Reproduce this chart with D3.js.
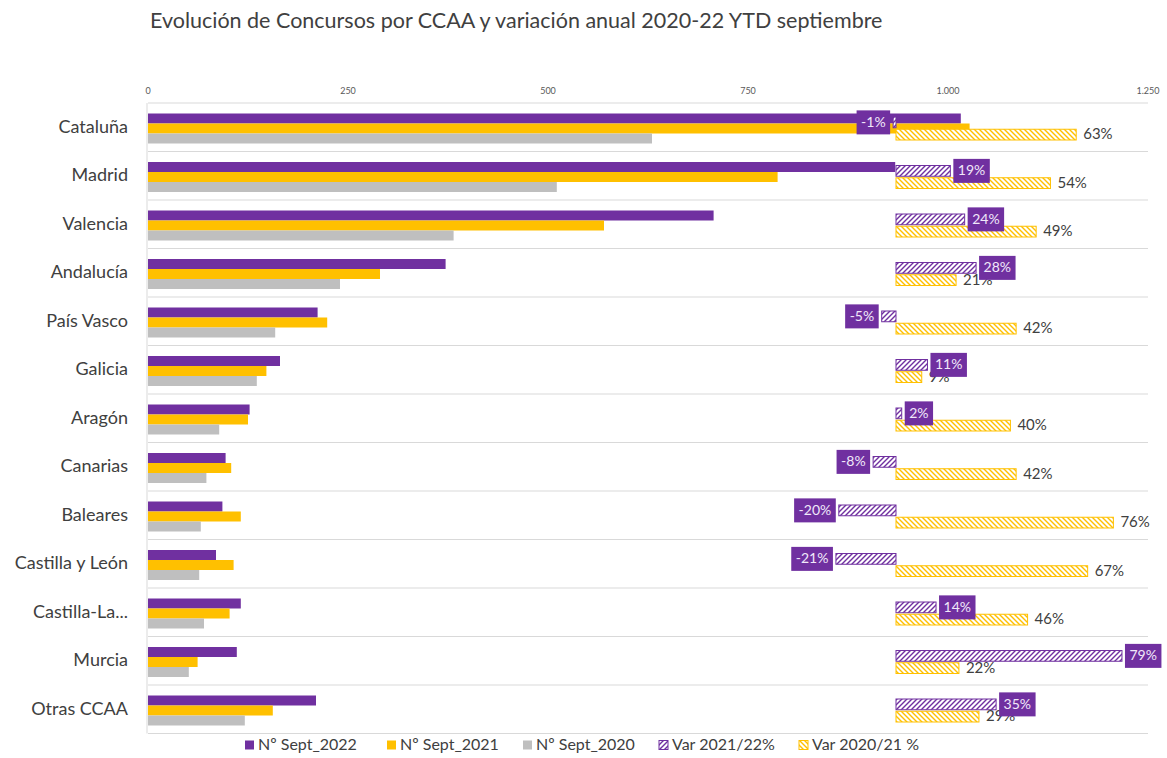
<!DOCTYPE html>
<html>
<head>
<meta charset="utf-8">
<script src="https://cdn.jsdelivr.net/npm/d3@7"></script>
<style>
  body { margin: 0; background: #fff; }
  svg text { font-family: Lato, "Open Sans", sans-serif; }
</style>
</head>
<body>
<div id="chart"></div>
<script>
const categories = ["Cataluña", "Madrid", "Valencia", "Andalucía", "País Vasco", "Galicia", "Aragón",
  "Canarias", "Baleares", "Castilla y León", "Castilla-La...", "Murcia", "Otras CCAA"];
const sept2022 = [1016, 934, 707, 372, 212, 165, 127, 97, 93, 85, 116, 111, 210];
const sept2021 = [1027, 787, 570, 290, 224, 148, 125, 104, 116, 107, 102, 62, 156];
const sept2020 = [630, 511, 382, 240, 159, 136, 89, 73, 66, 64, 70, 51, 121];
const var2122 = [-1, 19, 24, 28, -5, 11, 2, -8, -20, -21, 14, 79, 35];
const var2021 = [63, 54, 49, 21, 42, 9, 40, 42, 76, 67, 46, 22, 29];
const x_ticks = [0, 250, 500, 750, 1000, 1250];
const legend_names = ["Nº Sept_2022", "Nº Sept_2021", "Nº Sept_2020", "Var 2021/22%", "Var 2020/21 %"];

const PURPLE = "#7030A0", YELLOW = "#FFC000", GRAY = "#BFBFBF";

const W = 1167, H = 758;
const margin = {top: 103, left: 148};
const width = 1000, height = 630.5;

const es = d3.formatLocale({decimal: ",", thousands: ".", grouping: [3], currency: ["", "€"]});
const fmt = es.format(",");

const svg = d3.select("#chart").append("svg")
    .attr("width", W).attr("height", H);

const defs = svg.append("defs");
const hatch = (id, color, d) => {
  const p = defs.append("pattern")
      .attr("id", id)
      .attr("patternUnits", "userSpaceOnUse")
      .attr("width", 5).attr("height", 5);
  p.append("rect").attr("width", 5).attr("height", 5).attr("fill", "#fff");
  p.append("path").attr("d", d).attr("stroke", color).attr("stroke-width", 1.4);
};
hatch("hatch_purple", PURPLE, "M0,5 L5,0 M-1,1 L1,-1 M4,6 L6,4");
hatch("hatch_yellow", YELLOW, "M0,0 L5,5 M-1,4 L1,6 M4,-1 L6,1");

svg.append("text")
    .attr("x", 150).attr("y", 28)
    .attr("font-size", 21.5)
    .attr("fill", "#404040")
    .text("Evolución de Concursos por CCAA y variación anual 2020-22 YTD septiembre");

const g = svg.append("g")
    .attr("transform", "translate(" + margin.left + "," + margin.top + ")");

var x = d3.scaleLinear().domain([0, 1250]).range([0, width]);
// hidden secondary axis for the percentages
var x_pct = d3.scaleLinear().domain([-261.5, 88.1]).range([0, width]);
var y = d3.scaleBand().domain(categories).range([0, height]);
var y_main = d3.scaleBand().domain([0, 1, 2]).range([10.5, 40.5]);
var y_var = d3.scaleBand().domain([0, 1]).range([13.5, 37.5]).paddingInner(0.04);

/* grid */
const bounds = categories.map((c) => y(c)).concat([height]);
g.selectAll(".grid").data(bounds).join("line")
    .attr("x1", 0).attr("x2", width)
    .attr("y1", (d) => d).attr("y2", (d) => d)
    .attr("stroke", "#D9D9D9").attr("stroke-width", 1);
g.append("line")
    .attr("x1", -1).attr("x2", -1).attr("y1", 0).attr("y2", height)
    .attr("stroke", "#D9D9D9");

/* top axis labels */
g.selectAll(".xtick").data(x_ticks).join("text")
    .attr("x", (d) => x(d)).attr("y", -9)
    .attr("text-anchor", "middle")
    .attr("font-size", 9)
    .attr("fill", "#595959")
    .text((d) => fmt(d));

/* category labels */
g.selectAll(".cat").data(categories).join("text")
    .attr("x", -20)
    .attr("y", (d) => y(d) + y.bandwidth() / 2 + 1)
    .attr("text-anchor", "end")
    .attr("dominant-baseline", "middle")
    .attr("font-size", 18)
    .attr("fill", "#404040")
    .text((d) => d);

/* main bars */
const series = [sept2022, sept2021, sept2020];
const colors = [PURPLE, YELLOW, GRAY];
series.forEach((vals, s) => {
  g.selectAll(".bar" + s).data(vals).join("rect")
      .attr("x", x(0))
      .attr("y", (d, i) => y(categories[i]) + y_main(s))
      .attr("width", (d) => x(d) - x(0))
      .attr("height", y_main.bandwidth())
      .attr("fill", colors[s]);
});

/* variation bars */
const var_series = [var2122, var2021];
const var_fill = ["url(#hatch_purple)", "url(#hatch_yellow)"];
const var_stroke = [PURPLE, YELLOW];
var_series.forEach((vals, s) => {
  g.selectAll(".vbar" + s).data(vals).join("rect")
      .attr("x", (d) => x_pct(Math.min(0, d)))
      .attr("y", (d, i) => y(categories[i]) + y_var(s) + 0.5)
      .attr("width", (d) => Math.abs(x_pct(d) - x_pct(0)))
      .attr("height", y_var.bandwidth() - 1)
      .attr("fill", var_fill[s])
      .attr("stroke", var_stroke[s])
      .attr("stroke-width", 1);
});

/* 2020/21 labels */
g.selectAll(".lbl21").data(var2021).join("text")
    .attr("x", (d) => x_pct(d) + 7)
    .attr("y", (d, i) => y(categories[i]) + y_var(1) + y_var.bandwidth() / 2 + 1)
    .attr("dominant-baseline", "middle")
    .attr("font-size", 15)
    .attr("fill", "#404040")
    .text((d) => d + "%");

/* 2021/22 labels in purple boxes */
const box = g.selectAll(".lbl22").data(var2122).join("g");
box.each(function(d, i) {
  const el = d3.select(this);
  const t = el.append("text")
      .attr("font-size", 14)
      .attr("fill", "#F1E8FA")
      .attr("text-anchor", "middle")
      .attr("dominant-baseline", "middle")
      .text(d + "%");
  const tw = t.node().getComputedTextLength();
  const bw = tw + 9, bh = 24;
  const cy = y(categories[i]) + y_var(0) + y_var.bandwidth() / 2;
  const bx = d >= 0 ? x_pct(d) + 3 : x_pct(d) - 3 - bw;
  el.insert("rect", "text")
      .attr("x", bx).attr("y", cy - bh / 2)
      .attr("width", bw).attr("height", bh)
      .attr("fill", PURPLE);
  t.attr("x", bx + bw / 2).attr("y", cy + 1);
});

/* legend */
const legend_x = [245, 387, 523, 659, 799];
const legend_fill = [PURPLE, YELLOW, GRAY, "url(#hatch_purple)", "url(#hatch_yellow)"];
const legend_stroke = [null, null, null, PURPLE, YELLOW];
const lg = svg.selectAll(".legend").data(legend_names).join("g")
    .attr("transform", (d, i) => "translate(" + legend_x[i] + ",745)");
lg.append("rect")
    .attr("x", 0).attr("y", -4.5).attr("width", 9).attr("height", 9)
    .attr("fill", (d, i) => legend_fill[i])
    .attr("stroke", (d, i) => legend_stroke[i]);
lg.append("text")
    .attr("x", 13).attr("y", 1)
    .attr("dominant-baseline", "middle")
    .attr("font-size", 16)
    .attr("fill", "#404040")
    .text((d) => d);
</script>
</body>
</html>
